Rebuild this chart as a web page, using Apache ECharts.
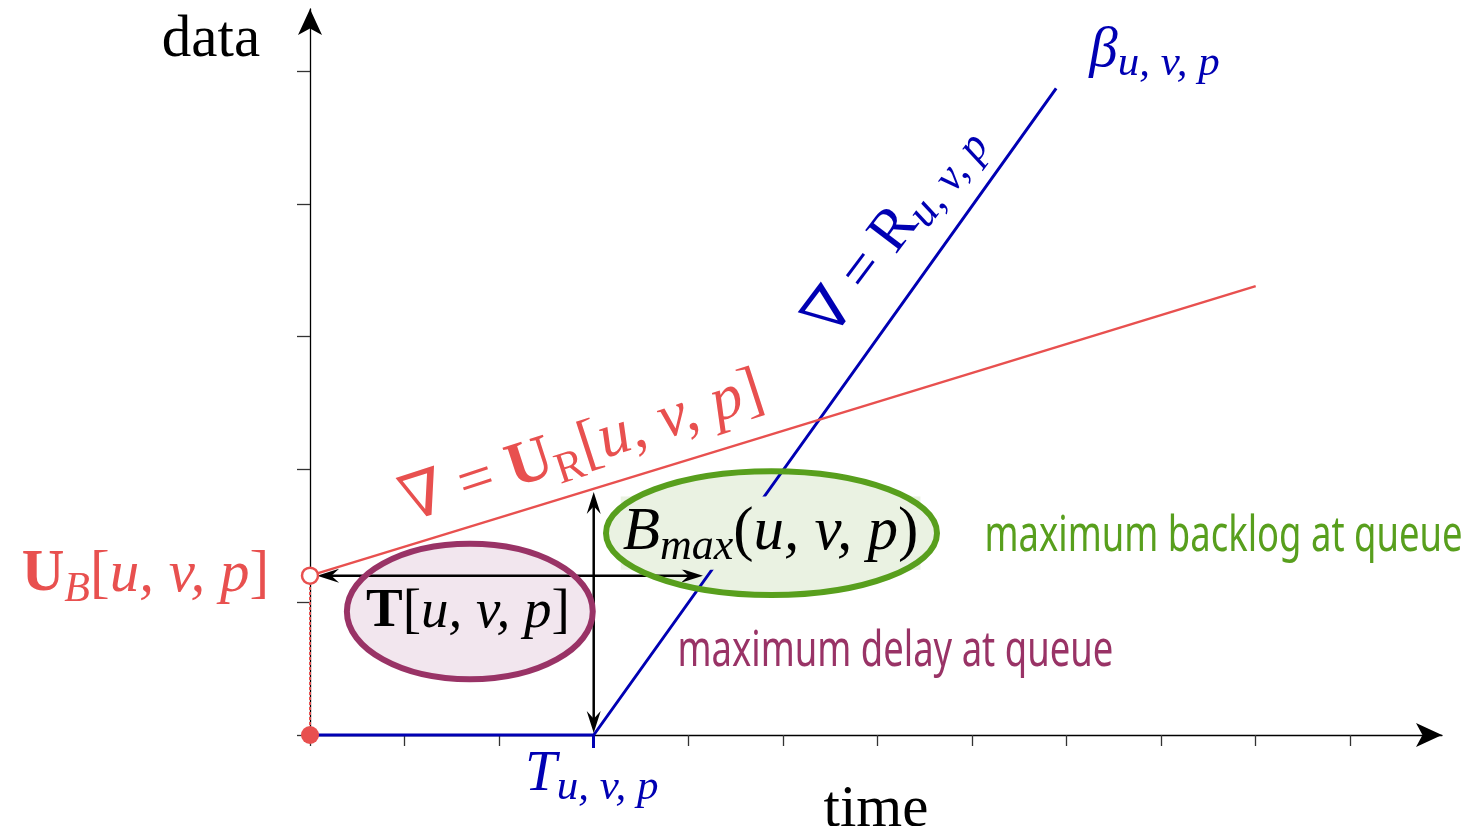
<!DOCTYPE html>
<html><head><meta charset="utf-8">
<script src="https://cdn.jsdelivr.net/npm/echarts@6/dist/echarts.min.js"></script>
<style>html,body{margin:0;padding:0;background:#fff}#c{width:1473px;height:826px}</style>
</head><body><div id="c"></div>
<script>
// ---- data (axis units: one time tick / one data tick) ----
const timeTicks = [0, 1, 2, 3, 4, 5, 6, 7, 8, 9, 10, 11];
const dataTicks = [0, 1, 2, 3, 4, 5];
const latency = 3;                 // T_{u,v,p}
const burst = 1.2;                 // U_B[u,v,p]
const serviceCurve = [[0, 0], [3, 0], [7.89, 4.87]];      // beta_{u,v,p}
const arrivalCurve = [[0, 1.2], [10, 3.38]];              // slope U_R
const burstGuide = [[0, 0], [0, 1.2]];
const curvePoints = [[0, 0], [0, 1.2]];
const delayArrow = [0.075, 1.2, 4.155, 1.2];              // x1,y1,x2,y2
const backlogArrow = [3, 0.015, 3, 1.83];
const delayRegion = [1.69, 0.93, 1.30, 0.51];             // cx,cy,rx,ry
const backlogRegion = [4.88, 1.52, 1.75, 0.466];
const noteTexts = ['maximum backlog at queue', 'maximum delay at queue'];

// ---- styles ----
const SERIF = "'Liberation Serif','DejaVu Serif',serif";
const SANS = "'Noto Sans','Open Sans',sans-serif";
const BLUE = '#0000b3', RED = '#e8504f', GREEN = '#589f1d', PURPLE = '#993366';
const GREEN_FILL = '#eaf2e2', PURPLE_FILL = '#f2e6ee';
const NOTE_SIZE = 50;

// horizontal condensing factor so the sans text matches the narrow face of the reference
const mctx = document.createElement('canvas').getContext('2d');
mctx.font = NOTE_SIZE + 'px ' + SANS;
const condense = 478 / mctx.measureText(noteTexts[0]).width;

function mathRich(color, main, sub) {
  return {
    mi: {fontFamily: SERIF, fontStyle: 'italic', fontSize: main, lineHeight: main * 1.2, color},
    rm: {fontFamily: SERIF, fontSize: main, lineHeight: main * 1.2, color},
    bf: {fontFamily: SERIF, fontWeight: 'bold', fontSize: main, lineHeight: main * 1.2, color},
    sub: {fontFamily: SERIF, fontStyle: 'italic', fontSize: sub, lineHeight: sub, verticalAlign: 'bottom', color},
    subrm: {fontFamily: SERIF, fontSize: sub, lineHeight: sub, verticalAlign: 'bottom', color}
  };
}
function ann(name, pos, text, extra) {
  return {name, value: pos,
    label: Object.assign({show: true, position: 'inside', formatter: text, opacity: 1}, extra)};
}

const annotations = [
  ann('beta', [8.93, 5.15], '{mi|β}{sub|u, v, p}', {rich: mathRich(BLUE, 57, 43)}),
  ann('T', [2.98, -0.30], '{mi|T}{sub|u, v, p}', {rich: mathRich(BLUE, 57, 43)}),
  ann('UB', [-1.74, 1.203], '{bf|U}{sub|B}{rm|[}{mi|u, v, p}{rm|]}', {rich: mathRich(RED, 59, 42)}),
  ann('Tdelay', [1.67, 0.925], '{bf|T}{rm|[}{mi|u, v, p}{rm|]}', {rich: mathRich('#000', 55, 38)}),
  ann('Bmax', [4.87, 1.52], '{mi|B}{sub|max}{rm|(}{mi|u, v, p}{rm|)}',
      {rich: mathRich('#000', 61, 44), backgroundColor: GREEN_FILL, padding: [0, 2]}),
  ann('rate', [6.18, 3.8], '{rm|∇ = R}{sub|u, v, p}', {rotate: 53, rich: mathRich(BLUE, 60, 44)}),
  ann('UR', [2.88, 2.16], '{rm|∇ = }{bf|U}{subrm|R}{rm|[}{mi|u, v, p}{rm|]}', {rotate: 18, rich: mathRich(RED, 63, 44)})
];

function ellipseItem(fillMode) {
  return function (params, api) {
    const c = api.coord([api.value(0), api.value(1)]);
    const s = api.size([api.value(2), api.value(3)]);
    const green = params.dataIndex === 1;
    return {
      type: 'ellipse',
      shape: {cx: c[0], cy: c[1], rx: s[0], ry: s[1]},
      style: fillMode
        ? {fill: green ? GREEN_FILL : PURPLE_FILL, stroke: null}
        : {fill: null, stroke: green ? GREEN : PURPLE, lineWidth: 6}
    };
  };
}
function arrowItem(params, api) {
  const p1 = api.coord([api.value(0), api.value(1)]);
  const p2 = api.coord([api.value(2), api.value(3)]);
  const dx = p2[0] - p1[0], dy = p2[1] - p1[1];
  const len = Math.hypot(dx, dy), ux = dx / len, uy = dy / len, nx = -uy, ny = ux;
  const L = 22, W = 14;
  function head(t, sx, sy) {
    return {type: 'polygon', shape: {points: [
      [t[0], t[1]],
      [t[0] - sx * L + nx * W / 2, t[1] - sy * L + ny * W / 2],
      [t[0] - sx * L * 0.65, t[1] - sy * L * 0.65],
      [t[0] - sx * L - nx * W / 2, t[1] - sy * L - ny * W / 2]
    ]}, style: {fill: '#000'}};
  }
  return {type: 'group', children: [
    {type: 'line', shape: {x1: p1[0] + ux * 10, y1: p1[1] + uy * 10, x2: p2[0] - ux * 10, y2: p2[1] - uy * 10},
     style: {stroke: '#000', lineWidth: 2.5}},
    head(p1, -ux, -uy),
    head(p2, ux, uy)
  ]};
}
function noteItem(params, api) {
  const p = api.coord([api.value(0), api.value(1)]);
  return {
    type: 'text', x: p[0], y: p[1], scaleX: condense, scaleY: 1,
    style: {text: noteTexts[params.dataIndex], fontFamily: SANS, fontSize: NOTE_SIZE,
            fill: params.dataIndex === 0 ? GREEN : PURPLE, align: 'center', verticalAlign: 'middle'}
  };
}

const chart = echarts.init(document.getElementById('c'), null, {renderer: 'canvas'});
chart.setOption({
  animation: false,
  backgroundColor: '#fff',
  grid: {left: 310, right: 31, top: 9, bottom: 91, containLabel: false, outerBoundsMode: 'none'},
  xAxis: [{
    type: 'value', min: 0, max: 11.97, position: 'bottom',
    name: 'time', nameLocation: 'middle', nameGap: 46,
    nameTextStyle: {fontFamily: SERIF, fontSize: 59, color: '#000'},
    axisLine: {show: true, onZero: false, symbol: ['none', 'arrow'], symbolSize: [18, 26],
               lineStyle: {color: '#000', width: 1.3}},
    axisTick: {show: true, customValues: timeTicks, length: 11, lineStyle: {color: '#333', width: 1.3}},
    axisLabel: {show: false}, splitLine: {show: false}
  }, {
    type: 'value', min: 0, max: 11.97, position: 'bottom', offset: 0,
    axisLine: {show: false},
    axisTick: {show: true, customValues: [latency], length: 13, lineStyle: {color: BLUE, width: 3}},
    axisLabel: {show: false}, splitLine: {show: false}
  }],
  yAxis: {
    type: 'value', min: 0, max: 5.467,
    name: 'data', nameLocation: 'end', nameGap: -31,
    nameTextStyle: {fontFamily: SERIF, fontSize: 59, color: '#000', align: 'center', verticalAlign: 'middle',
                    padding: [0, 198, 0, 0]},
    axisLine: {show: true, onZero: false, symbol: ['none', 'arrow'], symbolSize: [18, 26],
               lineStyle: {color: '#000', width: 1.3}},
    axisTick: {show: true, customValues: dataTicks, length: 13, lineStyle: {color: '#333', width: 1.3}},
    axisLabel: {show: false}, splitLine: {show: false}
  },
  series: [
    {type: 'custom', name: 'regions', renderItem: ellipseItem(true), data: [delayRegion, backlogRegion], z: 1, silent: true},
    {type: 'line', name: 'burst level', data: burstGuide, symbol: 'none', z: 2, clip: false,
     lineStyle: {color: RED, width: 2, type: [3, 2]}},
    {type: 'line', name: 'service curve', data: serviceCurve, symbol: 'none', z: 3, clip: false,
     lineStyle: {color: BLUE, width: 3}},
    {type: 'line', name: 'arrival curve', data: arrivalCurve, symbol: 'none', z: 3, clip: false,
     lineStyle: {color: RED, width: 2.5}},
    {type: 'custom', name: 'bounds', renderItem: arrowItem, data: [delayArrow, backlogArrow], z: 4, silent: true},
    {type: 'scatter', name: 'labels', data: annotations, symbolSize: 1, clip: false, z: 5, silent: true,
     itemStyle: {color: 'rgba(0,0,0,0)', opacity: 1}},
    {type: 'custom', name: 'notes', renderItem: noteItem, data: [[9.66, 1.49], [6.19, 0.63]], z: 5, silent: true},
    {type: 'custom', name: 'region outlines', renderItem: ellipseItem(false), data: [delayRegion, backlogRegion], z: 6, silent: true},
    {type: 'scatter', name: 'points', clip: false, z: 7, silent: true, data: [
      {value: curvePoints[0], symbolSize: 18, itemStyle: {color: RED, opacity: 1}},
      {value: curvePoints[1], symbolSize: 16, itemStyle: {color: '#fff', borderColor: RED, borderWidth: 2.5, opacity: 1}}
    ]}
  ]
});
</script></body></html>
